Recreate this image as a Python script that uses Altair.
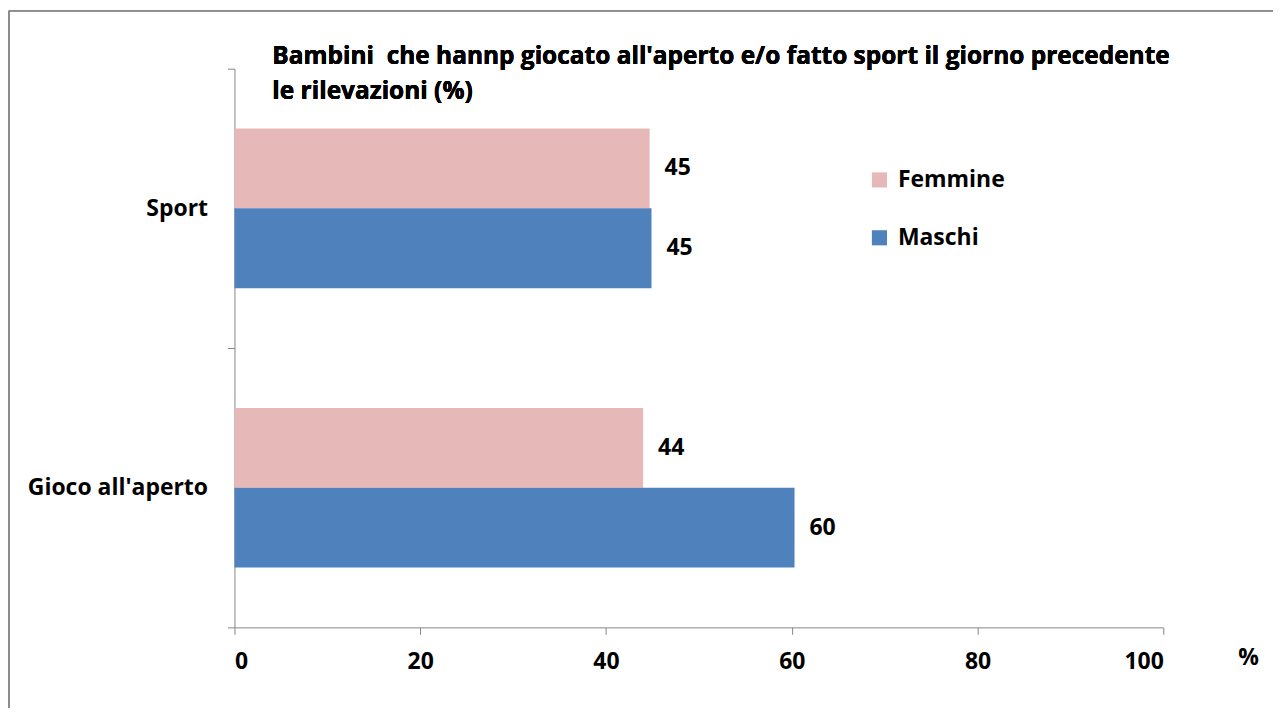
import altair as alt
import pandas as pd

categories = ["Sport", "Gioco all'aperto"]
series = ["Femmine", "Maschi"]
femmine = [44.7, 44.0]
maschi = [44.9, 60.3]
x_ticks = [0, 20, 40, 60, 80, 100]
colors = ["#E6B9B8", "#4F81BD"]
title_lines = ["Bambini \u00a0che hannp giocato all'aperto e/o fatto sport il giorno precedente",
               "le rilevazioni (%)"]

rows = []
for i, c in enumerate(categories):
    rows.append({"cat": c, "serie": "Femmine", "val": femmine[i]})
    rows.append({"cat": c, "serie": "Maschi", "val": maschi[i]})
df = pd.DataFrame(rows)
df["lab"] = df["val"].round(0).astype(int).astype(str)

FONT = "Open Sans"
FS = 23
W, H = 931, 560

y_enc = alt.Y("cat:N", sort=categories,
              scale=alt.Scale(paddingInner=0, paddingOuter=0),
              axis=alt.Axis(title=None, tickBand="extent", ticks=True, tickSize=7,
                            tickColor="#868686", domainColor="#868686",
                            labelFont=FONT, labelFontSize=FS, labelFontWeight="bold",
                            labelColor="#000000", labelPadding=20, labelLimit=400,
                            grid=False))
yoff = alt.YOffset("serie:N", sort=series,
                   scale=alt.Scale(paddingInner=0, paddingOuter=0.75))
x_enc = alt.X("val:Q", scale=alt.Scale(domain=[0, 100], nice=False),
              axis=alt.Axis(values=x_ticks, title="%", grid=False, tickSize=7,
                            tickColor="#868686", domainColor="#868686",
                            labelFont=FONT, labelFontSize=FS, labelFontWeight="bold",
                            labelColor="#000000", labelPadding=16,
                            titleFont=FONT, titleFontSize=FS, titleFontWeight="bold",
                            titleColor="#000000", titleX=1016, titleY=30,
                            titleAlign="center", titleBaseline="middle"))

bars = alt.Chart(df).mark_bar(size=80).encode(
    x=x_enc, y=y_enc, yOffset=yoff,
    color=alt.Color("serie:N", sort=series,
                    scale=alt.Scale(domain=series, range=colors),
                    legend=alt.Legend(title=None, orient="none", legendX=635, legendY=100,
                                      symbolType="square", symbolSize=230,
                                      symbolStrokeWidth=0, rowPadding=34,
                                      labelFont=FONT, labelFontSize=FS,
                                      labelFontWeight="bold", labelColor="#000000",
                                      labelOffset=7)),
)

labels = alt.Chart(df).mark_text(align="left", baseline="middle", dx=15,
                                 font=FONT, fontSize=FS, fontWeight="bold",
                                 color="#000000").encode(
    x="val:Q", y=alt.Y("cat:N", sort=categories), yOffset=alt.YOffset("serie:N", sort=series),
    text="lab:N")

title = alt.Chart(df).mark_text(align="left", baseline="alphabetic", lineHeight=35,
                                font=FONT, fontSize=24.5, fontWeight="bold",
                                color="#000000").encode(
    x=alt.value(38), y=alt.value(-5), text=alt.value(title_lines))

frame_left = alt.Chart(df).mark_rule(color="#8c8c8c", strokeWidth=1.5).encode(
    x=alt.value(-226), y=alt.value(-58), y2=alt.value(700))
frame_top = alt.Chart(df).mark_rule(color="#8c8c8c", strokeWidth=1.5).encode(
    x=alt.value(-226), x2=alt.value(1100), y=alt.value(-58))

chart = alt.layer(bars, labels, title, frame_left, frame_top).properties(
    width=W, height=H,
    autosize=alt.AutoSizeParams(type="none"),
    padding={"left": 227, "top": 60, "right": 110, "bottom": 80},
).configure(background="white").configure_view(strokeWidth=0, stroke="transparent")

chart.save("out.html", embed_options={"renderer": "svg", "actions": False})
